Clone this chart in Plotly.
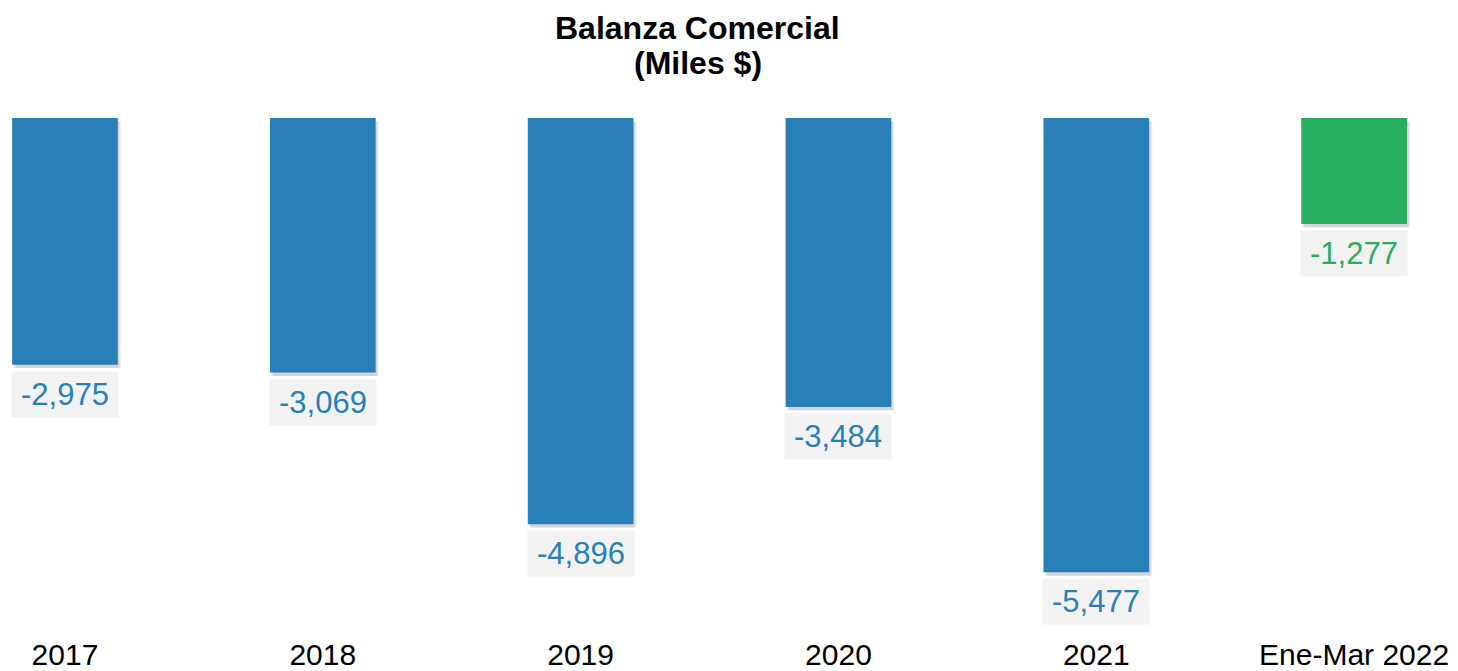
import plotly.graph_objects as go

categories = ["2017", "2018", "2019", "2020", "2021", "Ene-Mar 2022"]
values = [-2975, -3069, -4896, -3484, -5477, -1277]
labels = ["-2,975", "-3,069", "-4,896", "-3,484", "-5,477", "-1,277"]
colors = ["#2980b9", "#2980b9", "#2980b9", "#2980b9", "#2980b9", "#27ae60"]
title_lines = ["<b>Balanza Comercial</b>", "<b>(Miles $)</b>"]

FONT = "Liberation Sans, Arial, sans-serif"
BAR_W = 0.41

fig = go.Figure()

# soft shadow layers
for dx, alpha in [(0.012, 0.07), (0.006, 0.10)]:
    fig.add_trace(go.Bar(
        x=categories, y=values, base=[-40] * len(values),
        width=BAR_W, offset=-BAR_W / 2 + dx,
        marker=dict(color=f"rgba(0,0,0,{alpha})", line=dict(width=0)),
        hoverinfo="skip", showlegend=False,
    ))

fig.add_trace(go.Bar(
    x=categories, y=values, width=BAR_W, offset=-BAR_W / 2,
    marker=dict(color=colors, line=dict(width=0)),
    showlegend=False,
))

for i, (v, t, col) in enumerate(zip(values, labels, colors)):
    fig.add_annotation(
        x=i, y=v, xref="x", yref="y", text=t, showarrow=False,
        yanchor="top", yshift=-6, width=106, height=45,
        bgcolor="#f2f2f2", borderpad=0,
        font=dict(family=FONT, size=31, color=col),
    )

# title lines (paper y=1 is the plot top at 118px; 520px plot height)
for line, ypos in zip(title_lines, [1.175, 1.106]):
    fig.add_annotation(
        x=0.4787, y=ypos, xref="paper", yref="paper", text=line,
        showarrow=False, xanchor="center", yanchor="middle",
        font=dict(family=FONT, size=32, color="black"),
    )

fig.update_layout(
    width=1458, height=671,
    margin=dict(l=0, r=0, t=118, b=33),
    paper_bgcolor="white", plot_bgcolor="white",
    barmode="overlay",
    xaxis=dict(
        type="category", range=[-0.252, 5.403],
        showgrid=False, zeroline=False, showline=False, ticks="",
        tickfont=dict(family=FONT, size=30, color="black"),
    ),
    yaxis=dict(
        range=[-6220, 0], visible=False, showgrid=False, zeroline=False,
    ),
)

fig.write_html("out.html", config={"displayModeBar": False},
               post_script="document.body.style.margin='0';document.body.style.overflow='hidden';")
